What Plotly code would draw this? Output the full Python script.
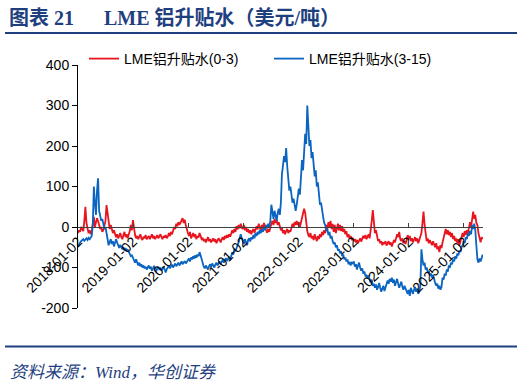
import pandas as pd
import plotly.graph_objects as go

# weekly observation dates (categories of the x axis)
dates = pd.date_range("2018-01-02", periods=384, freq="7D")

# LME aluminium 3-15 month spread (blue)
blue_2018 = [-48, -42, -38, -35, -33, -30, -34, -31, -28, -32, -27, -30, -26, -22, 5, 100, 60, 30, 90, 120, 40, 25, 15, 20, 5, -5, 0, -15, -35, -45, -38, -30, -42, -35, -48, -40, -30, -38, -45, -52, -44, -48, -55, -50, -58, -52, -60, -55, -62, -68, -72, -70]
blue_2019 = [-75, -82, -88, -80, -90, -95, -88, -97, -92, -100, -95, -102, -98, -105, -100, -95, -103, -98, -108, -100, -96, -104, -110, -102, -98, -106, -100, -108, -103, -98, -105, -112, -104, -100, -96, -102, -98, -93, -100, -95, -90, -97, -92, -88, -95, -90, -85, -92, -88, -84, -90, -86]
blue_2020 = [-82, -78, -85, -75, -80, -72, -78, -70, -76, -68, -72, -62, -70, -80, -92, -98, -102, -95, -100, -105, -97, -92, -98, -90, -95, -100, -93, -88, -95, -90, -85, -92, -85, -80, -88, -82, -77, -84, -78, -74, -82, -70, -62, -68, -55, -60, -50, -45, -38, -30, -18, -28]
blue_2021 = [-35, -42, -30, -38, -45, -32, -28, -36, -25, -30, -20, -28, -15, -22, -12, -18, -8, -15, -5, -12, 0, -8, 5, -3, 8, 0, 15, 55, 30, 20, 40, 25, 15, 35, 45, 30, 60, 130, 150, 175, 160, 195, 150, 110, 90, 100, 75, 60, 70, 50, 40, 55]
blue_2022 = [85, 95, 80, 120, 165, 140, 185, 230, 205, 300, 250, 200, 215, 170, 185, 150, 125, 140, 100, 110, 75, 55, 60, 35, 25, 10, 5, -10, -5, -20, -12, -28, -22, -35, -42, -38, -50, -45, -58, -55, -65, -60, -72, -68, -80, -75, -85, -80, -92, -86, -95, -88]
blue_2023 = [-90, -85, -98, -92, -105, -95, -88, -100, -108, -102, -115, -110, -122, -118, -128, -120, -132, -138, -130, -145, -140, -150, -142, -155, -148, -138, -150, -160, -152, -145, -158, -150, -140, -132, -140, -128, -135, -125, -138, -130, -145, -135, -128, -140, -150, -142, -135, -148, -155, -145, -152, -160]
blue_2024 = [-165, -155, -170, -150, -158, -165, -155, -148, -160, -152, -165, -158, -145, -55, -80, -95, -88, -105, -100, -112, -108, -120, -115, -125, -118, -130, -138, -145, -140, -152, -145, -155, -148, -125, -130, -115, -120, -105, -110, -95, -100, -88, -92, -80, -85, -72, -78, -65, -70, -58, -62, -50]
blue_2025 = [-45, -35, -40, -25, -30, -15, -22, -10, -18, 5, -5, 8, -8, -45, -80, -88, -78, -85, -72, -68]

# LME aluminium cash-3 month spread (red)
red_2018 = [-15, -8, -12, 0, -5, -10, 15, 50, 10, -5, -15, -8, -18, -10, 5, 25, 0, 10, 22, 15, 5, -5, 0, -12, -8, 5, 15, 54, 30, 10, -5, 5, -10, -15, -8, -20, -25, -18, -28, -22, -15, -25, -30, -20, -12, -25, -18, -28, -20, -10, 5, -8]
red_2019 = [17, -5, -20, -28, -22, -30, -25, -18, -28, -32, -24, -28, -20, -30, -26, -22, -30, -25, -18, -28, -22, -30, -26, -20, -28, -24, -18, -25, -30, -22, -26, -20, -28, -24, -15, -22, -12, -18, -8, 0, -5, 8, 2, 12, 5, 12, 15, 22, 10, 18, 5, -8]
red_2020 = [-15, -22, -12, -28, -20, -15, -25, -18, -30, -22, -26, -15, -22, -30, -28, -35, -30, -38, -32, -25, -35, -30, -38, -33, -28, -36, -30, -40, -35, -28, -32, -38, -30, -25, -32, -22, -28, -20, -26, -18, -24, -15, -8, -15, -5, -12, 2, -6, 5, -3, 8, -2]
red_2021 = [-5, 5, -8, 0, -12, -5, -15, -8, -18, -10, -5, -14, -8, 2, -6, 8, 0, -10, 5, -4, 10, -2, -8, -14, -5, -12, 0, 8, 15, 5, 20, 10, 18, 5, 12, 0, -8, -3, -15, -8, -18, -10, -5, -15, -8, -12, 0, 8, -2, 12, 5, 15]
red_2022 = [5, 12, 0, 10, 20, 30, 45, 35, 10, -10, -20, -25, -15, -28, -22, -32, -18, -28, -35, -22, -30, -18, -25, -12, -20, -8, -15, 5, -5, 12, 0, 15, -5, 8, -12, 5, -15, -5, 8, -8, 5, -10, 2, -12, -5, -18, -10, -25, -18, -28, -22, -30]
red_2023 = [-28, -35, -30, -38, -32, -40, -34, -28, -36, -30, -22, -28, -20, -30, -25, -18, -28, -10, 15, 42, 10, -15, -8, -22, -35, -30, -40, -35, -45, -38, -42, -35, -46, -40, -35, -44, -38, -48, -40, -32, -38, -28, -18, -25, -12, -30, -35, -28, -40, -35, -42, -32]
red_2024 = [-20, -30, -22, -35, -28, -38, -30, -25, -35, -28, -40, -32, -25, -15, 10, 38, 5, -25, -35, -28, -40, -32, -38, -45, -35, -42, -50, -40, -55, -48, -62, -45, -52, -38, -25, -15, -5, -18, -8, -20, -12, -25, -15, -30, -22, -35, -28, -40, -30, -45, -35, -25]
red_2025 = [-15, -25, -10, -20, -8, -15, 5, 12, 0, 25, 38, 20, 30, 10, 5, -15, -30, -38, -25, -30]

blue = blue_2018 + blue_2019 + blue_2020 + blue_2021 + blue_2022 + blue_2023 + blue_2024 + blue_2025
red = red_2018 + red_2019 + red_2020 + red_2021 + red_2022 + red_2023 + red_2024 + red_2025

tick_labels = ["2018-01-02", "2019-01-02", "2020-01-02", "2021-01-02",
               "2022-01-02", "2023-01-02", "2024-01-02", "2025-01-02"]
y_ticks = [-200, -100, 0, 100, 200, 300, 400]
y_tick_text = [str(v) for v in y_ticks]

name_red = "LME铝升贴水(0-3)"
name_blue = "LME铝升贴水(3-15)"

NAVY = "#1F3F7F"
FONT = "Liberation Sans, Arial, Noto Sans CJK SC, sans-serif"
SERIF = "Liberation Serif, Noto Sans CJK SC, serif"

fig = go.Figure()
fig.add_trace(go.Scatter(x=dates, y=red, mode="lines", name=name_red,
                         line=dict(color="#E8141E", width=1.8)))
fig.add_trace(go.Scatter(x=dates, y=blue, mode="lines", name=name_blue,
                         line=dict(color="#0A64C0", width=1.8)))

W, H = 524, 386
L, R, T, B = 78, 41, 65, 78
pw, ph = W - L - R, H - T - B

def px_x(px):
    return (px - L) / pw

def px_y(py):
    return (H - B - py) / ph

fig.update_layout(
    width=W, height=H,
    margin=dict(l=L, r=R, t=T, b=B, pad=0, autoexpand=False),
    paper_bgcolor="white", plot_bgcolor="white",
    font=dict(family=FONT, size=14, color="black"),
    showlegend=True,
    legend=dict(orientation="h", x=px_x(84), xanchor="left", y=px_y(59), yanchor="middle",
                font=dict(size=14, family=FONT), entrywidth=140, entrywidthmode="pixels",
                bgcolor="rgba(0,0,0,0)", borderwidth=0, tracegroupgap=0),
    xaxis=dict(type="date", range=["2018-01-02", "2025-05-08"],
               anchor="free", position=(0 - y_ticks[0]) / (y_ticks[-1] - y_ticks[0]),
               showline=True, linecolor="#404040", linewidth=1,
               ticks="inside", ticklen=4, tickcolor="#404040",
               tickvals=pd.to_datetime(tick_labels), ticktext=tick_labels,
               tickangle=-45, tickfont=dict(size=14, family=FONT),
               showgrid=False, zeroline=False, automargin=False),
    yaxis=dict(range=[y_ticks[0], y_ticks[-1]], tickvals=y_ticks, ticktext=y_tick_text,
               showline=True, linecolor="black", linewidth=1,
               ticks="outside", ticklen=5, tickcolor="black",
               tickfont=dict(size=14, family=FONT),
               showgrid=False, zeroline=False, automargin=False),
)

fig.add_annotation(xref="paper", yref="paper", x=px_x(7), y=px_y(18),
                   xanchor="left", yanchor="middle", showarrow=False,
                   text="<b>图表\u00a021\u00a0\u00a0\u00a0\u00a0\u00a0\u00a0LME\u00a0铝升贴水（美元/吨）</b>",
                   font=dict(family=SERIF, size=20, color=NAVY))
fig.add_annotation(xref="paper", yref="paper", x=px_x(8), y=px_y(372),
                   xanchor="left", yanchor="middle", showarrow=False,
                   text="<i>资料来源：Wind，华创证券</i>",
                   font=dict(family=SERIF, size=17, color=NAVY))
fig.add_shape(type="line", xref="paper", yref="paper",
              x0=px_x(5), x1=px_x(517), y0=px_y(33), y1=px_y(33),
              line=dict(color=NAVY, width=2))
fig.add_shape(type="line", xref="paper", yref="paper",
              x0=px_x(5), x1=px_x(517), y0=px_y(346.5), y1=px_y(346.5),
              line=dict(color=NAVY, width=2))

fig.write_html("out.html", config={"displayModeBar": False},
               post_script="document.body.style.margin='0';document.body.style.overflow='hidden';")
